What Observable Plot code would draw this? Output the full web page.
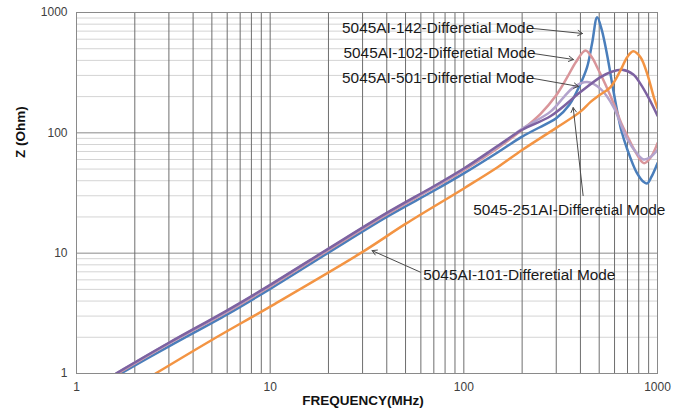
<!DOCTYPE html>
<html><head><meta charset="utf-8">
<script src="https://cdn.jsdelivr.net/npm/d3@7"></script>
<script src="https://cdn.jsdelivr.net/npm/@observablehq/plot@0.6"></script>
<style>body{margin:0;background:#fff}</style>
</head><body><div id="chart"></div>
<script>
// ---- data (frequency in MHz, impedance in Ohm) ----
const xTicks = [1, 10, 100, 1000];
const yTicks = [1, 10, 100, 1000];

const f142 = [1.6, 3, 6, 10, 20, 40, 70, 100, 150, 200, 270, 300, 350, 400, 433, 460, 488, 515, 550, 590, 620, 650, 700, 780, 850, 885, 930, 1000];
const z142 = [0.95, 1.68, 3.1, 5.05, 10.1, 20, 33, 46, 69, 93, 120, 132, 170, 255, 351, 560, 914, 720, 440, 230, 150, 105, 72, 47, 39, 38, 43, 56];

const f102 = [1.6, 3, 6, 10, 20, 40, 70, 100, 150, 200, 249, 300, 342, 380, 425, 460, 488, 540, 594, 650, 697, 760, 850, 920, 1000];
const z102 = [0.98, 1.77, 3.25, 5.3, 10.6, 21, 35, 49, 75, 106, 144, 205, 290, 390, 483, 420, 351, 250, 175, 120, 95, 72, 56, 62, 82];

const f501 = [1.6, 3, 6, 10, 20, 40, 70, 100, 150, 200, 280, 330, 370, 433, 508, 594, 650, 700, 780, 850, 920, 1000];
const z501 = [1.0, 1.79, 3.3, 5.4, 10.8, 21.4, 35.5, 50, 77, 108, 150, 200, 240, 264, 232, 163, 115, 88, 68, 60, 63, 72];

const f251 = [1.6, 3, 6, 10, 20, 40, 70, 100, 150, 200, 281, 400, 508, 580, 657, 750, 817, 900, 1000];
const z251 = [1.0, 1.8, 3.35, 5.45, 10.9, 21.6, 36, 50.5, 78, 106, 138, 218, 290, 322, 334, 305, 255, 195, 139];

const f101 = [2.56, 5, 10, 29.3, 50, 100, 150, 200, 300, 400, 450, 500, 572, 644, 697, 749, 817, 885, 957, 1000];
const z101 = [1, 1.9, 3.6, 10, 17.5, 34.5, 52, 72, 110, 150, 180, 205, 240, 330, 425, 477, 425, 309, 198, 160];

const seriesNames = ["142", "102", "501", "251", "101"];
const seriesColors = ["#4a7ebb", "#d9959a", "#b3a3cc", "#7d62a1", "#f39443"];
const seriesF = [f142, f102, f501, f251, f101];
const seriesZ = [z142, z102, z501, z251, z101];

// annotations: label text, text anchor point, arrow start, arrow tip (data coords)
const labels = ["5045AI-142-Differetial Mode", "5045AI-102-Differetial Mode", "5045AI-501-Differetial Mode", "5045-251AI-Differetial Mode", "5045AI-101-Differetial Mode"];
const labelF = [23.5, 23.9, 23.5, 111.8, 61.7];
const labelZ = [736, 456, 283, 22.6, 6.52];
const arrowF1 = [229, 229, 229, 413, 59.7];
const arrowZ1 = [736, 456, 283, 30.1, 6.95];
const arrowF2 = [410, 368, 391, 367, 33.6];
const arrowZ2 = [669, 407, 243, 162, 10.5];

// ---- tables ----
const rows = seriesNames.flatMap((s, i) => seriesF[i].map((f, j) => ({series: s, f, z: seriesZ[i][j]})));
const notes = labels.map((t, i) => ({t, f: labelF[i], z: labelZ[i], f1: arrowF1[i], z1: arrowZ1[i], f2: arrowF2[i], z2: arrowZ2[i]}));
const minor = d3.range(0, 3).flatMap(e => [2, 3, 4, 5, 6, 7, 8, 9].map(m => m * 10 ** e));
const vGrid = [...minor, 10, 100];

const chart = Plot.plot({
  width: 677, height: 414,
  marginLeft: 76, marginRight: 20, marginTop: 12, marginBottom: 41,
  style: {fontFamily: "'Liberation Sans', Arial, sans-serif", fontSize: "12px", color: "#404040", background: "#fff"},
  x: {type: "log", domain: [1, 1000], ticks: xTicks, tickFormat: d => String(d), tickSize: 0, tickPadding: 9, label: null},
  y: {type: "log", domain: [1, 1000], ticks: yTicks, tickFormat: d => String(d), tickSize: 0, tickPadding: 9, label: null},
  color: {domain: seriesNames, range: seriesColors},
  marks: [
    Plot.ruleY(minor, {stroke: "#d4d4d4", strokeWidth: 1}),
    Plot.ruleY([10, 100], {stroke: "#8a8a8a", strokeWidth: 1}),
    Plot.ruleX(vGrid, {stroke: "#6e6e6e", strokeWidth: 1}),
    Plot.frame({stroke: "#8a8a8a"}),
    Plot.line(rows, {x: "f", y: "z", z: "series", stroke: "series", strokeWidth: 2.5, curve: "catmull-rom", clip: true}),
    Plot.arrow(notes, {x1: "f1", y1: "z1", x2: "f2", y2: "z2", stroke: "#4a4a4a", strokeWidth: 1, headLength: 8}),
    Plot.text(notes, {x: "f", y: "z", text: "t", textAnchor: "start", lineAnchor: "middle", fontSize: 15.4, fill: "#1a1a1a"}),
    Plot.text(["Z (Ohm)"], {frameAnchor: "left", rotate: -90, dx: -56, dy: -35, fontWeight: "bold", fontSize: 13.5, fill: "#111"}),
    Plot.text(["FREQUENCY(MHz)"], {frameAnchor: "bottom", dx: -4, dy: 31, fontWeight: "bold", fontSize: 13.5, fill: "#111"})
  ]
});
document.getElementById("chart").append(chart);
</script></body></html>
